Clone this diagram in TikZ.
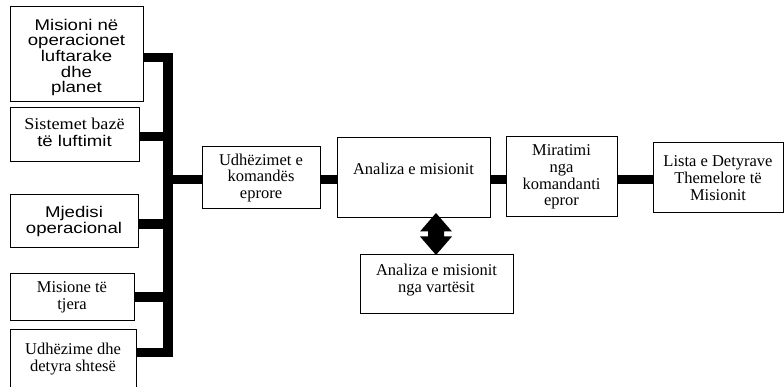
\documentclass[tikz,border=0pt]{standalone}
\usepackage{fontspec}
\usepackage{graphicx}
\newfontfamily\serifx{Liberation Serif}
\newfontfamily\sansx[FakeStretch=1.2]{Liberation Sans}
\begin{document}
\begin{tikzpicture}[x=1pt,y=-1pt,
  box/.style={draw=black,line width=1pt,inner sep=0pt,align=center,fill=white},
  txt/.style={inner sep=0pt,align=center},
  sr/.style={font=\serifx\fontsize{16.5}{16.8}\selectfont},
  ss/.style={font=\sansx\fontsize{15.5}{15.7}\selectfont},
  bar/.style={line width=9.5pt,draw=black}]
\useasboundingbox (0,0) rectangle (784,387);
% left column boxes
\node[box,minimum width=133pt,minimum height=95pt] (b1) at (76.5,54.5) {};
\node[txt,ss] (t1) at (76.5,57.5) {Misioni në\\operacionet\\luftarake\\dhe\\planet};
\node[box,minimum width=129pt,minimum height=54pt] (b2) at (74.5,135) {};
\node[txt,sr] (t2) at (74.5,132) {\scalebox{1.1}[1]{Sistemet bazë}\\{\sansx\fontsize{15.5}{15.7}\selectfont të luftimit}};
\node[box,ss,minimum width=128pt,minimum height=53pt] (b3) at (74,221.5) {Mjedisi\\operacional};
\node[box,sr,minimum width=124pt,minimum height=46pt] (b4) at (72,297) {Misione të\\tjera};
\node[box,minimum width=126pt,minimum height=71pt] (b5) at (73,364.5) {};
\node[txt,sr,anchor=north] (t5) at (73,343) {Udhëzime dhe\\detyra shtesë};
% main row
\node[box,sr,minimum width=118pt,minimum height=62pt] (ud) at (261,178) {Udhëzimet e\\komandës\\eprore};
\node[box,minimum width=153pt,minimum height=80pt] (an) at (413.5,178) {};
\node[txt,sr] (ant) at (413.5,168.5) {Analiza e misionit};
\node[box,sr,minimum width=111pt,minimum height=80pt] (mir) at (561.5,177) {Miratimi\\nga\\komandanti\\epror};
\node[box,sr,minimum width=130pt,minimum height=70pt] (li) at (718,178) {Lista e Detyrave\\Themelore të\\Misionit};
\node[box,minimum width=153pt,minimum height=58pt] (va) at (436.5,284) {};
\node[txt,sr] (vat) at (436.5,280) {Analiza e misionit\\nga vartësit};
% bus
\coordinate (j1) at (168,57.5);
\coordinate (j2) at (168,136.5);
\coordinate (j3) at (168,224);
\coordinate (j4) at (168,297);
\coordinate (j5) at (168,352.5);
\coordinate (j0) at (168,179.5);
\draw[bar,line join=miter] (b1.east |- j1) -- (j1) -- (j5) -- (b5.east |- j5);
\draw[bar] (b2.east |- j2) -- (j2);
\draw[bar] (b3.east |- j3) -- (j3);
\draw[bar] (b4.east |- j4) -- (j4);
\draw[bar] (j0) -- (ud.west |- j0);
\draw[bar] (ud.east |- j0) -- (an.west |- j0);
\draw[bar] (an.east |- j0) -- (mir.west |- j0);
\draw[bar] (mir.east |- j0) -- (li.west |- j0);
% double arrow
\coordinate (ar) at (436,234);
\fill[black,shift={(ar)}] (0,-21) -- (16,-2.5) -- (8,-2.5) -- (8,2.5) -- (16,2.5) -- (0,21) -- (-16,2.5) -- (-8,2.5) -- (-8,-2.5) -- (-16,-2.5) -- cycle;
\end{tikzpicture}
\end{document}
